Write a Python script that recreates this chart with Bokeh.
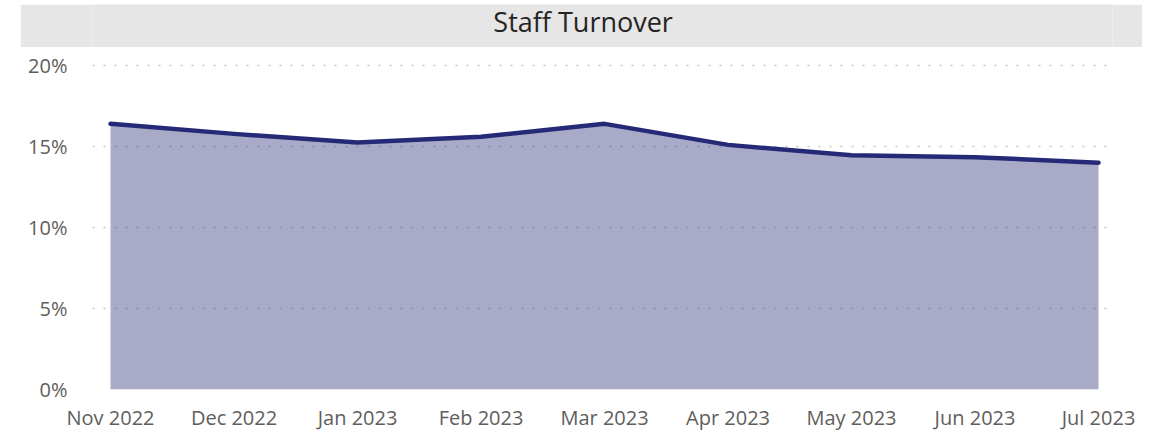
from bokeh.plotting import figure
from bokeh.layouts import column
from bokeh.models import Range1d, FixedTicker, NumeralTickFormatter
from bokeh.core.properties import value
from bokeh.embed import file_html
from bokeh.resources import INLINE

months = ["Nov 2022", "Dec 2022", "Jan 2023", "Feb 2023", "Mar 2023",
          "Apr 2023", "May 2023", "Jun 2023", "Jul 2023"]
turnover = [0.1642, 0.1580, 0.1527, 0.1562, 0.1642, 0.1512, 0.1448, 0.1436, 0.1402]
y_ticks = [0.0, 0.05, 0.10, 0.15, 0.20]
title_text = "Staff Turnover"

NAVY = "#252a76"
FONT = "Open Sans"
LABEL = "#605e5c"
BAND = "#e6e6e6"

x = list(range(len(months)))

# Title band
pt = figure(width=1122, height=43, x_range=(0, 1), y_range=(0, 1),
            toolbar_location=None, output_backend="svg",
            min_border_left=72, min_border_right=30, min_border_top=0,
            min_border_bottom=0)
pt.axis.visible = False
pt.grid.visible = False
pt.outline_line_color = None
pt.background_fill_color = BAND
pt.border_fill_color = BAND
pt.text(x=[0.481], y=[0.6], text=[title_text], text_align="center",
        text_baseline="middle", text_font=value(FONT), text_font_size="27px",
        text_color="#252423")

# Main chart
p = figure(width=1122, height=386, toolbar_location=None, output_backend="svg",
           x_range=Range1d(-0.146, 8.113), y_range=Range1d(0, 0.2015),
           min_border_top=16, min_border_bottom=39, min_border_left=72,
           min_border_right=30)
p.outline_line_color = None
p.background_fill_color = "white"
p.border_fill_color = "white"
p.xgrid.visible = False
p.ygrid.ticker = FixedTicker(ticks=y_ticks)
p.ygrid.grid_line_color = "#c8c8c8"
p.ygrid.grid_line_dash = "2 9"
p.ygrid.grid_line_width = 1.5

p.varea(x=x, y1=[0] * len(x), y2=turnover, fill_color=NAVY, fill_alpha=0.4)
p.line(x=x, y=turnover, line_color=NAVY, line_width=4.5,
       line_join="round", line_cap="round")

p.xaxis.ticker = FixedTicker(ticks=x)
p.xaxis.major_label_overrides = {i: m for i, m in enumerate(months)}
p.yaxis.ticker = FixedTicker(ticks=y_ticks)
p.yaxis.formatter = NumeralTickFormatter(format="0%")
for ax in (p.xaxis, p.yaxis):
    ax.axis_line_color = None
    ax.major_tick_line_color = None
    ax.minor_tick_line_color = None
    ax.major_label_text_font = FONT
    ax.major_label_text_font_size = "20px"
    ax.major_label_text_color = LABEL
p.xaxis.major_label_standoff = 8
p.yaxis.major_label_standoff = 19

layout = column(pt, p, spacing=0, margin=(4, 0, 0, 20))

open("out.html", "w").write(file_html(layout, INLINE))
